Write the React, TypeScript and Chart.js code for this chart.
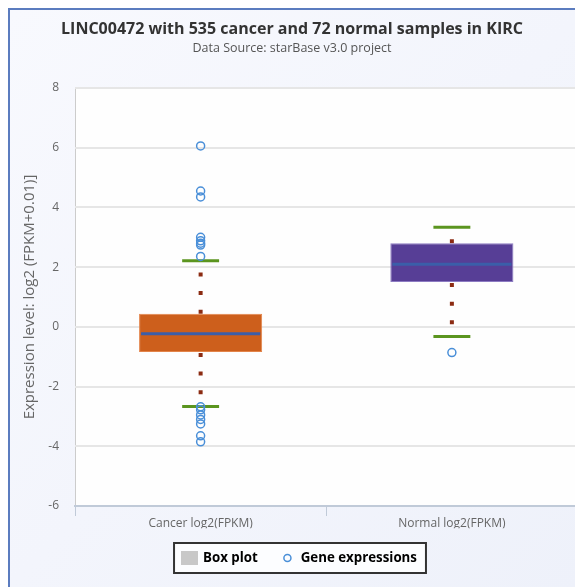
import React, { useEffect, useRef } from "react";
import { Chart, registerables } from "chart.js";

Chart.register(...registerables);

const FONT = "'Open Sans', 'DejaVu Sans', sans-serif";

const categories = ["Cancer log2(FPKM)", "Normal log2(FPKM)"];
const lowerWhisker = [-2.67, -0.32];
const q1 = [-0.84, 1.5];
const median = [-0.23, 2.1];
const q3 = [0.44, 2.8];
const upperWhisker = [2.21, 3.34];
const cancerOutliers = [6.06, 4.55, 4.35, 3.0, 2.88, 2.8, 2.74, 2.36, -2.68, -2.78, -2.95, -3.1, -3.25, -3.65, -3.85];
const normalOutliers = [-0.86];
const yTicks = [-6, -4, -2, 0, 2, 4, 6, 8];

const boxColors = ["#cd5f1c", "#573e96"];
const boxBorders = ["#e3844a", "#8c7bc2"];

const LEGEND_SHIFT = 8;

function legendRect(chart: any) {
  const hb = chart.legend && chart.legend.legendHitBoxes;
  if (!hb || !hb.length) return null;
  let minX = Infinity;
  let maxX = -Infinity;
  hb.forEach((h: any) => {
    minX = Math.min(minX, h.left);
    maxX = Math.max(maxX, h.left + h.width);
  });
  const cy = hb[0].top + hb[0].height / 2;
  return { x: minX - 9, y: cy - 15, w: maxX - minX + 18, h: 30 };
}

const boxDecor = {
  id: "boxDecor",
  afterUpdate(chart: any) {
    const lg = chart.legend;
    if (!lg || !lg.legendHitBoxes) return;
    const pad = lg.options.labels.padding;
    lg.legendHitBoxes.forEach((h: any) => {
      h.top -= lg.top + pad;
    });
    lg.left += LEGEND_SHIFT;
    lg.right += LEGEND_SHIFT;
    lg.adjustHitBoxes();
  },
  beforeDraw(chart: any) {
    const { ctx, chartArea: a } = chart;
    ctx.save();
    ctx.fillStyle = "#fefefe";
    ctx.fillRect(a.left, a.top, a.right - a.left, a.bottom - a.top);
    ctx.strokeStyle = "#cccccc";
    ctx.lineWidth = 1;
    ctx.strokeRect(a.left + 0.5, a.top + 0.5, a.right - a.left - 1, a.bottom - a.top);
    const r = legendRect(chart);
    if (r) {
      ctx.fillStyle = "#fcfdff";
      ctx.fillRect(r.x, r.y, r.w, r.h);
    }
    ctx.restore();
  },
  beforeDatasetDraw(chart: any, args: any) {
    if (args.index !== 0) return;
    const { ctx } = chart;
    const xs = chart.scales.x;
    const ys = chart.scales.y;
    ctx.save();
    ctx.strokeStyle = "#8b2b12";
    ctx.lineWidth = 4;
    ctx.lineCap = "butt";
    ctx.setLineDash([4, 14.6]);
    categories.forEach((_, i) => {
      const x = xs.getPixelForValue(i);
      ctx.beginPath();
      ctx.moveTo(x, ys.getPixelForValue(q3[i]));
      ctx.lineTo(x, ys.getPixelForValue(upperWhisker[i]));
      ctx.stroke();
      ctx.beginPath();
      ctx.moveTo(x, ys.getPixelForValue(q1[i]) + 1);
      ctx.lineTo(x, ys.getPixelForValue(lowerWhisker[i]));
      ctx.stroke();
    });
    ctx.restore();
  },
  afterDatasetDraw(chart: any, args: any) {
    if (args.index !== 0) return;
    const { ctx } = chart;
    const ys = chart.scales.y;
    const meta = chart.getDatasetMeta(0);
    ctx.save();
    meta.data.forEach((bar: any, i: number) => {
      const x = bar.x;
      const w = bar.width;
      const ww = w * 0.3;
      ctx.strokeStyle = "#5b951f";
      ctx.lineWidth = 3;
      [upperWhisker[i], lowerWhisker[i]].forEach((v) => {
        const y = ys.getPixelForValue(v);
        ctx.beginPath();
        ctx.moveTo(x - ww / 2, y);
        ctx.lineTo(x + ww / 2, y);
        ctx.stroke();
      });
      ctx.strokeStyle = "#3b5ea9";
      ctx.lineWidth = 3;
      const ym = ys.getPixelForValue(median[i]);
      ctx.beginPath();
      ctx.moveTo(x - w / 2 + 2, ym);
      ctx.lineTo(x + w / 2 - 2, ym);
      ctx.stroke();
    });
    ctx.restore();
  },
  afterDraw(chart: any) {
    const r = legendRect(chart);
    if (!r) return;
    const { ctx } = chart;
    ctx.save();
    ctx.strokeStyle = "#333333";
    ctx.lineWidth = 2;
    ctx.strokeRect(r.x, r.y, r.w, r.h);
    ctx.restore();
  },
};

export default function App() {
  const ref = useRef<HTMLCanvasElement | null>(null);

  useEffect(() => {
    if (!ref.current) return;
    Chart.defaults.font.family = FONT;
    const sq = document.createElement("canvas");
    sq.width = 17;
    sq.height = 14;
    const sctx = sq.getContext("2d");
    if (sctx) {
      sctx.fillStyle = "#c8c8c8";
      sctx.fillRect(0, 0, 17, 14);
    }

    const chart = new Chart(ref.current, {
      type: "bar",
      data: {
        labels: categories,
        datasets: [
          {
            type: "bar",
            label: "Box plot",
            data: categories.map((_, i) => [q1[i], q3[i]]) as any,
            backgroundColor: boxColors,
            borderColor: boxBorders,
            borderWidth: 1,
            borderSkipped: false,
            barPercentage: 0.49,
            categoryPercentage: 1,
            order: 2,
          } as any,
          {
            type: "line",
            label: "Gene expressions",
            data: [
              ...cancerOutliers.map((v) => ({ x: categories[0], y: v })),
              ...normalOutliers.map((v) => ({ x: categories[1], y: v })),
            ] as any,
            showLine: false,
            pointRadius: 4,
            pointBorderWidth: 1.5,
            pointBorderColor: "#4a8fd8",
            pointBackgroundColor: "rgba(255,255,255,0)",
            order: 1,
          } as any,
        ],
      },
      options: {
        responsive: false,
        animation: false,
        devicePixelRatio: 1,
        events: [],
        layout: { padding: { left: -6, right: 3, top: 0, bottom: 12.35 } },
        plugins: {
          tooltip: { enabled: false },
          title: {
            display: true,
            text: "LINC00472 with 535 cancer and 72 normal samples in KIRC",
            color: "#333333",
            font: { family: FONT, size: 16, weight: "bold" },
            padding: { top: 10, bottom: 1 },
          },
          subtitle: {
            display: true,
            text: "Data Source: starBase v3.0 project",
            color: "#555555",
            font: { family: FONT, size: 12.5 },
            padding: { top: 1, bottom: 31.8 },
          },
          legend: {
            display: true,
            position: "bottom",
            labels: {
              usePointStyle: true,
              boxHeight: 5,
              padding: 23,
              color: "#333333",
              font: { family: FONT, size: 13.3, weight: "bold" },
              generateLabels: () => [
                {
                  text: "Box plot",
                  pointStyle: sq,
                  fillStyle: "#c8c8c8",
                  strokeStyle: "#c8c8c8",
                  lineWidth: 0,
                  hidden: false,
                  datasetIndex: 0,
                } as any,
                {
                  text: "Gene expressions",
                  pointStyle: "circle",
                  fillStyle: "rgba(255,255,255,0)",
                  strokeStyle: "#4a8fd8",
                  lineWidth: 1.5,
                  hidden: false,
                  datasetIndex: 1,
                } as any,
              ],
            },
          },
        },
        scales: {
          x: {
            type: "category",
            offset: true,
            afterFit: (s: any) => {
              s.height = 22.35;
            },
            grid: {
              offset: true,
              drawOnChartArea: false,
              drawTicks: true,
              tickLength: 10,
              color: "#c0cad8",
              lineWidth: 1,
            },
            border: { display: true, color: "#c0cad8", width: 2 },
            ticks: { color: "#666666", font: { family: FONT, size: 12 }, padding: 0 },
          },
          y: {
            min: -6,
            max: 8,
            afterFit: (s: any) => {
              s.width = 71;
            },
            afterBuildTicks: (s: any) => {
              s.ticks = yTicks.map((v) => ({ value: v }));
            },
            grid: { color: "#e6e6e6", lineWidth: 2, drawTicks: false },
            border: { display: false },
            ticks: { color: "#666666", font: { family: FONT, size: 12 }, padding: 16 },
            title: {
              display: true,
              text: "Expression level: log2 (FPKM+0.01)]",
              color: "#666666",
              font: { family: FONT, size: 15 },
              padding: { top: 17, bottom: 0 },
            },
          },
        },
      } as any,
      plugins: [boxDecor],
    });
    return () => chart.destroy();
  }, []);

  return (
    <div
      style={{
        position: "relative",
        width: 575,
        height: 579,
        boxSizing: "border-box",
        borderTop: "2px solid #5b7cbf",
        borderLeft: "2px solid #5b7cbf",
        background: "linear-gradient(135deg, #f8f9fe 0%, #eef1fa 100%)",
        overflow: "hidden",
      }}
    >
      <canvas ref={ref} width={573} height={577} style={{ display: "block", width: 573, height: 577 }} />
    </div>
  );
}
